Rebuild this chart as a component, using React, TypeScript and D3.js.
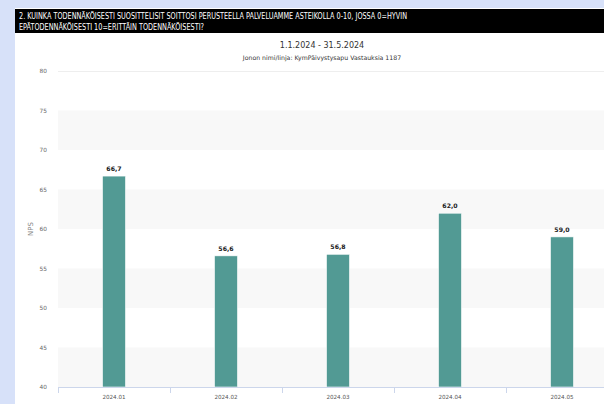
import React from "react";
import * as d3 from "d3";

const categories = ["2024.01", "2024.02", "2024.03", "2024.04", "2024.05"];
const values = [66.7, 56.6, 56.8, 62.0, 59.0];
const yTicks = [40, 45, 50, 55, 60, 65, 70, 75, 80];
const titleLines = [
  "2. KUINKA TODENNÄKÖISESTI SUOSITTELISIT SOITTOSI PERUSTEELLA PALVELUAMME ASTEIKOLLA 0-10, JOSSA 0=HYVIN",
  "EPÄTODENNÄKÖISESTI 10=ERITTÄIN TODENNÄKÖISESTI?",
];
const subtitle1 = "1.1.2024 - 31.5.2024";
const subtitle2 = "Jonon nimi/linja: KymPäivystysapu Vastauksia 1187";
const yTitle = "NPS";

export default function App() {
  const W = 604, H = 404;
  const left = 58, right = 618, top = 71, bottom = 387;
  const x = d3.scaleBand<string>().domain(categories).range([left, right]).paddingInner(0).paddingOuter(0);
  const y = d3.scaleLinear().domain([40, 80]).range([bottom, top]);
  const barW = 23;
  const fmt = (v: number) => d3.format(".1f")(v).replace(".", ",");
  const bands = yTicks.slice(0, -1).filter((t) => t % 10 === 0);
  const font = "'Liberation Sans Narrow', 'DejaVu Sans Condensed', 'Liberation Sans', sans-serif";
  const font2 = "'DejaVu Sans', Verdana, sans-serif";
  return (
    <svg width={W} height={H} style={{ position: "absolute", left: 0, top: 0 }}>
      <rect x={0} y={0} width={W} height={H} fill="#d7e1f9" />
      <rect x={15} y={8} width={W - 15} height={H - 8} fill="#ffffff" />
      <rect x={15} y={9} width={W - 15} height={24} fill="#000000" />
      <text x={19} y={18.5} fill="#fff" fontFamily={font} fontSize={8.4} textLength={388} lengthAdjust="spacingAndGlyphs">{titleLines[0]}</text>
      <text x={19} y={29.5} fill="#fff" fontFamily={font} fontSize={8.4} textLength={185} lengthAdjust="spacingAndGlyphs">{titleLines[1]}</text>
      <text x={322} y={48} fill="#333" fontFamily={font2} fontSize={8} textAnchor="middle">{subtitle1}</text>
      <text x={322} y={60} fill="#333" fontFamily={font2} fontSize={6.2} textAnchor="middle">{subtitle2}</text>
      {bands.map((t) => (
        <rect key={t} x={left} y={y(t + 5)} width={right - left} height={y(t) - y(t + 5)} fill="#f8f8f8" />
      ))}
      <line x1={left} x2={right} y1={top + 0.5} y2={top + 0.5} stroke="#eeeeee" />
      {yTicks.map((t) => (
        <text key={t} x={47} y={y(t) + 2} fill="#666" fontFamily={font2} fontSize={5.8} textAnchor="end">{t}</text>
      ))}
      <text transform={`translate(33,${(top + bottom) / 2}) rotate(-90)`} fill="#888" fontFamily={font2} fontSize={7} textAnchor="middle">{yTitle}</text>
      {categories.map((c, i) => {
        const cx = (x(c) as number) + x.bandwidth() / 2;
        const v = values[i];
        return (
          <g key={c}>
            <rect x={cx - barW / 2} y={y(v)} width={barW} height={bottom - y(v)} fill="#529a94" stroke="#ffffff" strokeWidth={0.6} />
            <text x={cx} y={y(v) - 5} fill="#222" fontFamily={font2} fontSize={6.2} fontWeight="bold" textAnchor="middle">{fmt(v)}</text>
            <text x={cx} y={399} fill="#555" fontFamily={font2} fontSize={5.6} textAnchor="middle">{c}</text>
          </g>
        );
      })}
      <line x1={left} x2={right} y1={bottom + 0.5} y2={bottom + 0.5} stroke="#ccd6eb" />
      {categories.map((c) => (
        <line key={c} x1={(x(c) as number) + 0.5} x2={(x(c) as number) + 0.5} y1={bottom} y2={bottom + 6} stroke="#ccd6eb" />
      ))}
    </svg>
  );
}
